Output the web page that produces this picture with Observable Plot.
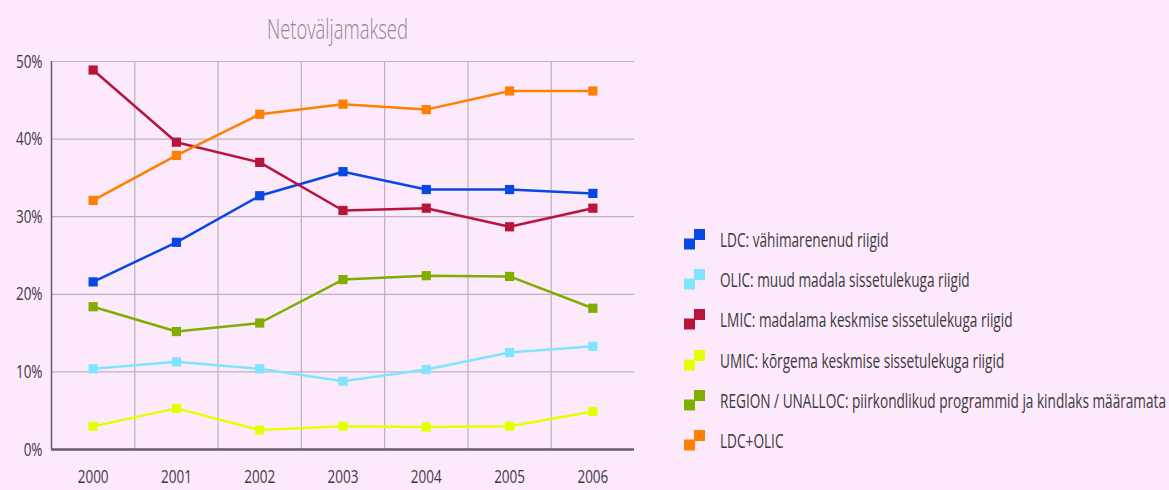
<!DOCTYPE html>
<html><head><meta charset="utf-8">
<script src="https://cdn.jsdelivr.net/npm/d3@7"></script>
<script src="https://cdn.jsdelivr.net/npm/@observablehq/plot@0.6"></script>
<style>
html,body{margin:0;padding:0;background:#fde9fc;}
#wrap{position:relative;width:1169px;height:490px;background:#fde9fc;overflow:hidden;
  font-family:"Open Sans","Noto Sans",sans-serif;}
#title{position:absolute;left:187px;width:300px;top:9px;text-align:center;font-size:28px;font-weight:300;color:#8a8a8e;white-space:nowrap;}
#title span{display:inline-block;transform-origin:center;}
#chart{position:absolute;left:0;top:45px;}
#legend{position:absolute;left:684px;top:219px;}
.item{display:flex;align-items:center;height:40.3px;font-size:20px;color:#3a3a3a;white-space:nowrap;}
.item svg{margin-right:15px;flex:none;}
.item span{display:inline-block;transform-origin:left center;}
</style>
</head><body>
<div id="wrap">
  <div id="title"><span>Netoväljamaksed</span></div>
  <div id="chart"></div>
  <div id="legend"></div>
</div>
<script>
const years = [2000, 2001, 2002, 2003, 2004, 2005, 2006];
const seriesNames = [
  "LDC: vähimarenenud riigid",
  "OLIC: muud madala sissetulekuga riigid",
  "LMIC: madalama keskmise sissetulekuga riigid",
  "UMIC: kõrgema keskmise sissetulekuga riigid",
  "REGION / UNALLOC: piirkondlikud programmid ja kindlaks määramata",
  "LDC+OLIC"
];
const seriesColors = ["#0747e4", "#80e4ff", "#b8153d", "#e4ff00", "#80ae00", "#ff8000"];
const LDC    = [21.6, 26.7, 32.7, 35.8, 33.5, 33.5, 33.0];
const OLIC   = [10.4, 11.3, 10.4, 8.8, 10.3, 12.5, 13.3];
const LMIC   = [48.9, 39.6, 37.0, 30.8, 31.1, 28.7, 31.1];
const UMIC   = [3.0, 5.3, 2.5, 3.0, 2.9, 3.0, 4.9];
const REGION = [18.4, 15.2, 16.3, 21.9, 22.4, 22.3, 18.2];
const LDC_OLIC = [32.1, 37.9, 43.2, 44.5, 43.8, 46.2, 46.2];
const yTicks = [0, 10, 20, 30, 40, 50];

const seriesValues = [LDC, OLIC, LMIC, UMIC, REGION, LDC_OLIC];
const data = seriesNames.flatMap((name, i) =>
  years.map((year, j) => ({series: name, year, value: seriesValues[i][j]})));

const gridColor = "#bbb3bb";
const axisColor = "#665e68";
const xDomain = [d3.min(years) - 0.5, d3.max(years) + 0.5];
const boundaries = years.slice(1).map(y => y - 0.5);

const chart = Plot.plot({
  width: 640,
  height: 445,
  marginLeft: 51,
  marginRight: 6,
  marginTop: 16,
  marginBottom: 41,
  style: {background: "transparent", fontFamily: '"Open Sans","Noto Sans",sans-serif', fontSize: "19px", color: "#3d3a3e"},
  x: {type: "linear", domain: xDomain, ticks: years, tickFormat: d => String(d), tickSize: 0, tickPadding: 20, label: null},
  y: {domain: [0, 50], ticks: yTicks, tickFormat: d => d + "%", tickSize: 0, tickPadding: 9, label: null},
  color: {domain: seriesNames, range: seriesColors},
  marks: [
    Plot.ruleY(yTicks.filter(d => d > 0), {stroke: gridColor, strokeWidth: 1.2}),
    Plot.ruleX(boundaries, {y1: 0, y2: 50, stroke: gridColor, strokeWidth: 1.2}),
    Plot.ruleX([xDomain[0]], {y1: 0, y2: 50, stroke: axisColor, strokeWidth: 1.5}),
    Plot.line(data, {x: "year", y: "value", z: "series", stroke: "series", strokeWidth: 2.5}),
    Plot.dot(data, {x: "year", y: "value", fill: "series", symbol: "square", r: 5.2, stroke: "none"}),
    Plot.ruleY([0], {stroke: axisColor, strokeWidth: 2.5})
  ]
});
document.getElementById("chart").appendChild(chart);

// condense tick labels horizontally (reference uses a condensed face)
chart.querySelectorAll('g[aria-label$="tick label"] text').forEach(t => {
  const w = t.getComputedTextLength();
  t.setAttribute("textLength", (w * 0.71).toFixed(2));
  t.setAttribute("lengthAdjust", "spacingAndGlyphs");
});

// title condensed to reference width
const ts = document.querySelector("#title span");
ts.style.transform = `scaleX(${141 / ts.getBoundingClientRect().width})`;

const legend = document.getElementById("legend");
seriesNames.forEach((name, i) => {
  const item = document.createElement("div");
  item.className = "item";
  const c = seriesColors[i];
  item.innerHTML = `<svg width="21" height="21" viewBox="0 0 21 21"><rect x="10" y="0" width="11" height="11" fill="${c}"/><rect x="0" y="9.5" width="11" height="11" fill="${c}"/></svg><span></span>`;
  item.querySelector("span").textContent = name;
  legend.appendChild(item);
});
const spans = [...legend.querySelectorAll("span")];
const k = 446 / spans[4].getBoundingClientRect().width;
spans.forEach(s => s.style.transform = `scaleX(${k})`);
</script>
</body></html>
